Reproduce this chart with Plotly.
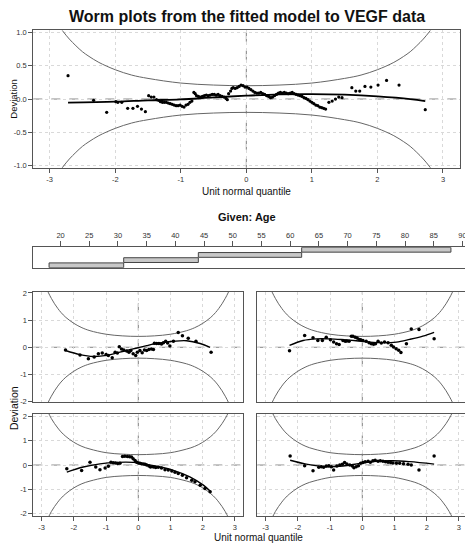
import plotly.graph_objects as go

W, H = 473, 550
OFF = 8  # the page body adds an 8 px margin, so the figure is drawn 8 px smaller
FW, FH = W - OFF, H - OFF

# ---- overall worm plot (all ages) ----
all_z = [-2.72, -2.33, -2.13, -1.99, -1.96, -1.90, -1.81, -1.73, -1.66, -1.60, -1.54,
         -1.49, -1.45, -1.41, -1.37, -1.34, -1.31, -1.28, -1.25, -1.22, -1.19, -1.16,
         -1.13, -1.10, -1.07, -1.04, -1.01, -0.98, -0.95, -0.92, -0.89, -0.86, -0.83,
         -0.80, -0.78, -0.76, -0.73, -0.70, -0.67, -0.64, -0.61, -0.58, -0.55, -0.52,
         -0.49, -0.46, -0.43, -0.40, -0.37, -0.34, -0.31, -0.29,
         -0.27, -0.24, -0.22, -0.20, -0.17, -0.14, -0.11, -0.08, -0.05, -0.02, 0.01,
         0.04, 0.07, 0.10, 0.13, 0.16, 0.19, 0.22, 0.25, 0.28, 0.31, 0.34, 0.37, 0.40,
         0.43, 0.46, 0.49, 0.52, 0.55, 0.58, 0.61, 0.64, 0.67, 0.70, 0.73, 0.76, 0.79,
         0.82, 0.85, 0.88, 0.91, 0.94, 0.97, 1.00, 1.03, 1.06, 1.09, 1.12, 1.15, 1.18,
         1.21, 1.26, 1.31, 1.36, 1.41, 1.46,
         1.61, 1.67, 1.73, 1.81, 1.90, 2.01, 2.14, 2.33, 2.73]
all_dev = [0.35, -0.02, -0.20, -0.04, -0.05, -0.05, -0.14, -0.14, -0.11, -0.15, -0.19,
           0.05, 0.03, 0.03, -0.01, -0.02, -0.04, -0.05, -0.05, -0.05, -0.06, -0.07,
           -0.08, -0.09, -0.10, -0.10, -0.09, -0.11, -0.12, -0.09, -0.08, -0.05, -0.03,
           0.10, 0.08, 0.05, 0.04, 0.03, 0.04, 0.05, 0.06, 0.05, 0.06, 0.07,
           0.07, 0.06, 0.07, 0.05, 0.04, 0.03, 0.01, -0.01,
           0.08, 0.12, 0.16, 0.17, 0.16, 0.17, 0.19, 0.21, 0.20, 0.18, 0.18,
           0.16, 0.14, 0.12, 0.10, 0.09, 0.09, 0.10, 0.08, 0.07, 0.05, 0.04, 0.02, 0.03,
           0.05, 0.07, 0.09, 0.10, 0.09, 0.10, 0.09, 0.08, 0.09, 0.10, 0.08, 0.07, 0.06,
           0.05, 0.04, 0.02, 0.01, -0.01, -0.03, -0.05, -0.07, -0.09, -0.10, -0.12, -0.13, -0.14,
           -0.15, -0.05, -0.03, 0.00, 0.03, 0.02,
           0.17, 0.12, 0.12, 0.19, 0.18, 0.21, 0.28, 0.21, -0.16]
all_fit_z = [-2.72, -2.0, -1.5, -1.0, -0.5, 0.0, 0.5, 1.0, 1.5, 2.0, 2.5, 2.73]
all_fit = [-0.055, -0.04, -0.02, -0.005, 0.025, 0.05, 0.07, 0.075, 0.065, 0.04, 0.0, -0.03]

# confidence band half-widths, positive quantile side
band_z = [0, 0.5, 1.0, 1.5, 1.75, 2.0, 2.25, 2.4, 2.5, 2.6, 2.7, 2.8, 2.9]
band_all = [0.20, 0.21, 0.24, 0.31, 0.36, 0.44, 0.55, 0.64, 0.71, 0.80, 0.90, 1.02, 1.16]
band_row1 = [0.40, 0.42, 0.48, 0.61, 0.72, 0.88, 1.10, 1.28, 1.43, 1.60, 1.80, 2.03, 2.31]
band_row2 = [0.43, 0.45, 0.51, 0.66, 0.77, 0.94, 1.18, 1.37, 1.53, 1.71, 1.92, 2.18, 2.47]

# ---- age intervals ----
age_start = [18, 31, 44, 62]
age_end = [31, 44, 62, 88]
age_level = [1, 2, 3, 4]
age_ticks = [20, 25, 30, 35, 40, 45, 50, 55, 60, 65, 70, 75, 80, 85, 90]

# ---- panel: age 18-31 (bottom left) ----
bl_z = [-2.22, -1.76, -1.50, -1.32, -1.19, -1.03, -0.93, -0.85, -0.78, -0.71, -0.64,
        -0.57, -0.49, -0.42, -0.34, -0.27, -0.21, -0.16, -0.10, -0.05, 0.0, 0.05, 0.10,
        0.16, 0.21, 0.26, 0.33, 0.38, 0.47, 0.54, 0.62, 0.72, 0.83, 0.93, 1.04, 1.14,
        1.24, 1.37, 1.50, 1.66, 1.76, 1.92, 2.07, 2.23]
bl_dev = [-0.15, -0.22, 0.12, -0.08, -0.19, -0.12, -0.05, 0.12, 0.10, 0.08, 0.06,
          0.07, 0.35, 0.36, 0.35, 0.34, 0.33, 0.26, 0.19, 0.12, 0.09, 0.07, 0.05,
          0.04, 0.03, 0.0, -0.04, -0.08, -0.08, -0.10, -0.09, -0.12, -0.19, -0.20, -0.25, -0.30,
          -0.35, -0.42, -0.52, -0.63, -0.69, -0.83, -0.97, -1.10]
bl_fit_z = [-2.22, -1.71, -1.19, -0.67, -0.16, 0.16, 0.57, 1.09, 1.60, 2.02, 2.25]
bl_fit = [-0.29, -0.08, 0.05, 0.11, 0.11, 0.05, -0.05, -0.22, -0.49, -0.83, -1.10]

# ---- panel: age 31-44 (bottom right) ----
br_z = [-2.24, -1.79, -1.53, -1.35, -1.27, -1.20, -1.12, -1.04, -0.96, -0.89, -0.79,
        -0.70, -0.62, -0.55, -0.48, -0.39, -0.31, -0.26, -0.19, -0.12, -0.05, 0.02,
        0.09, 0.18, 0.25, 0.33, 0.40, 0.49, 0.56, 0.64, 0.72, 0.80, 0.88, 0.95, 1.06,
        1.16, 1.28, 1.42, 1.52, 1.76, 2.23]
br_dev = [0.37, -0.03, -0.23, -0.09, -0.07, -0.09, -0.04, -0.03, -0.07, -0.20, -0.04,
          0.0, 0.03, 0.11, 0.04, 0.0, -0.04, -0.11, -0.07, -0.03, 0.07, 0.11,
          0.14, 0.16, 0.12, 0.18, 0.20, 0.16, 0.18, 0.16, 0.14, 0.12, 0.11, 0.09, 0.07,
          0.07, 0.05, 0.03, 0.0, -0.20, 0.37]
br_fit_z = [-2.24, -1.74, -1.12, -0.60, -0.08, 0.43, 0.95, 1.47, 2.23]
br_fit = [0.20, 0.04, -0.07, -0.04, 0.07, 0.16, 0.18, 0.14, 0.04]

# ---- panel: age 44-62 (top left) ----
tl_z = [-2.26, -1.81, -1.55, -1.37, -1.24, -1.12, -1.00, -0.93, -0.81, -0.72, -0.65,
        -0.59, -0.52, -0.45, -0.36, -0.29, -0.23, -0.16, -0.08, -0.03, 0.05, 0.12,
        0.19, 0.26, 0.33, 0.41, 0.47, 0.50, 0.57, 0.64, 0.72, 0.78, 0.85, 0.91, 0.98,
        1.09, 1.24, 1.37, 1.55, 1.79, 2.26]
tl_dev = [-0.10, -0.28, -0.42, -0.36, -0.24, -0.21, -0.27, -0.30, -0.39, -0.18, -0.21,
          0.02, -0.06, -0.10, -0.14, -0.18, -0.12, -0.24, -0.30, -0.18, -0.12, -0.20,
          -0.10, -0.12, -0.08, -0.06, -0.08, 0.15, 0.14, 0.14, 0.12, 0.17, 0.22, 0.16, 0.05,
          0.22, 0.54, 0.42, 0.33, 0.22, -0.18]
tl_fit_z = [-2.26, -1.81, -1.40, -0.98, -0.57, -0.16, 0.26, 0.67, 1.09, 1.50, 1.92, 2.23]
tl_fit = [-0.12, -0.27, -0.34, -0.30, -0.18, -0.06, 0.06, 0.16, 0.22, 0.24, 0.14, 0.0]

# ---- panel: age 62-88 (top right) ----
tr_z = [-2.26, -1.79, -1.53, -1.38, -1.24, -1.12, -0.99, -0.89, -0.80, -0.72, -0.60,
        -0.53, -0.48, -0.41, -0.34, -0.29, -0.22, -0.16, -0.10, -0.05, 0.02, 0.12,
        0.21, 0.28, 0.35, 0.41, 0.49, 0.59, 0.69, 0.80, 0.90, 0.97, 1.05, 1.13, 1.20,
        1.37, 1.52, 1.76, 2.23]
tr_dev = [-0.13, 0.43, 0.35, 0.25, 0.25, 0.37, 0.28, 0.19, 0.13, 0.10, 0.25,
          0.22, 0.23, 0.22, 0.41, 0.41, 0.37, 0.34, 0.29, 0.28, 0.25, 0.22,
          0.17, 0.13, 0.11, 0.13, 0.22, 0.16, 0.19, 0.17, 0.07, 0.01, -0.05, -0.11, -0.19,
          0.13, 0.67, 0.65, 0.31]
tr_fit_z = [-2.26, -1.84, -1.43, -1.01, -0.60, -0.19, 0.23, 0.64, 1.06, 1.47, 1.88, 2.23]
tr_fit = [0.07, 0.25, 0.31, 0.31, 0.28, 0.24, 0.19, 0.17, 0.19, 0.29, 0.41, 0.55]

FONT = "Liberation Sans, Arial, sans-serif"
LINE = "#555555"
GRID = "#d9d9d9"


def px_x(a, b):
    return [(a - OFF) / FW, (b - OFF) / FW]


def px_y(top, bottom):
    return [1 - (bottom - OFF) / FH, 1 - (top - OFF) / FH]


fig = go.Figure()


def add_panel(n, z, dev, fit_z, fit, band, dot=3.5, lw=1.4):
    sfx = "" if n == 1 else str(n)
    xa, ya = "x" + sfx, "y" + sfx
    full_z = [-v for v in band_z[::-1]] + band_z[1:]
    full_b = band[::-1] + band[1:]
    fig.add_trace(go.Scatter(x=full_z, y=full_b, mode="lines", xaxis=xa, yaxis=ya,
                             line=dict(color="#666666", width=1, shape="spline"),
                             hoverinfo="skip"))
    fig.add_trace(go.Scatter(x=full_z, y=[-v for v in full_b], mode="lines", xaxis=xa, yaxis=ya,
                             line=dict(color="#666666", width=1, shape="spline"),
                             hoverinfo="skip"))
    fig.add_trace(go.Scatter(x=fit_z, y=fit, mode="lines", xaxis=xa, yaxis=ya,
                             line=dict(color="black", width=lw, shape="spline")))
    fig.add_trace(go.Scatter(x=z, y=dev, mode="markers", xaxis=xa, yaxis=ya,
                             marker=dict(color="black", size=dot)))
    for sh in [dict(x0=0, x1=1, xref=xa + " domain", y0=0, y1=0, yref=ya),
               dict(x0=0, x1=0, xref=xa, y0=0, y1=1, yref=ya + " domain")]:
        fig.add_shape(type="line", line=dict(color="#808080", width=1, dash="dash"),
                      layer="below", **sh)


add_panel(1, all_z, all_dev, all_fit_z, all_fit, band_all, dot=3.2, lw=1.8)
add_panel(3, tl_z, tl_dev, tl_fit_z, tl_fit, band_row1)
add_panel(4, tr_z, tr_dev, tr_fit_z, tr_fit, band_row1)
add_panel(5, bl_z, bl_dev, bl_fit_z, bl_fit, band_row2)
add_panel(6, br_z, br_dev, br_fit_z, br_fit, band_row2)

# given: age intervals
fig.add_trace(go.Bar(y=age_level, x=[e - s for s, e in zip(age_start, age_end)], base=age_start,
                     orientation="h", width=0.92, xaxis="x2", yaxis="y2",
                     marker=dict(color="#c8c8c8", line=dict(color="#444444", width=1))))

tickfont = dict(family=FONT, size=7.5, color="#333333")
zticks = [-3, -2, -1, 0, 1, 2, 3]
zlabels = [str(v) for v in zticks]


def xax(dom, anchor, labels=True, rng=(-3.26, 3.26)):
    return dict(domain=dom, anchor=anchor, range=list(rng), tickvals=zticks, ticktext=zlabels,
                showticklabels=labels, ticks="outside" if labels else "", ticklen=4,
                tickcolor=LINE, showline=True, mirror=True, linecolor=LINE, linewidth=1,
                showgrid=True, gridcolor=GRID, griddash="dot", zeroline=False, tickfont=tickfont)


def yax(dom, anchor, rng, vals, text, labels=True):
    return dict(domain=dom, anchor=anchor, range=list(rng), tickvals=vals, ticktext=text,
                showticklabels=labels, ticks="outside" if labels else "", ticklen=4,
                tickcolor=LINE, showline=True, mirror=True, linecolor=LINE, linewidth=1,
                showgrid=True, gridcolor=GRID, griddash="dot", zeroline=False, tickfont=tickfont)


top_vals = [-1.0, -0.5, 0.0, 0.5, 1.0]
top_text = ["-1.0", "-0.5", "0.0", "0.5", "1.0"]
sub_vals = [-2, -1, 0, 1, 2]
sub_text = ["-2", "-1", "0", "1", "2"]

colL = px_x(33.3, 243.3)
colR = px_x(257.3, 467.3)
row1 = px_y(292.3, 404.3)
row2 = px_y(415.7, 520)

fig.update_layout(
    width=FW, height=FH, margin=dict(l=0, r=0, t=0, b=0),
    paper_bgcolor="white", plot_bgcolor="white", showlegend=False,
    font=dict(family=FONT, color="#222222"),
    xaxis=xax(px_x(33.3, 460), "y", rng=(-3.25, 3.26)),
    yaxis=yax(px_y(26.7, 166), "x", (-1.03, 1.03), top_vals, top_text),
    xaxis2=dict(domain=px_x(33, 467), anchor="y2", range=[15.2, 90.8], side="top",
                tickvals=age_ticks, ticks="outside", ticklen=5, tickcolor=LINE,
                showline=True, mirror=True, linecolor=LINE, linewidth=1,
                showgrid=False, zeroline=False, tickfont=tickfont),
    yaxis2=dict(domain=px_y(246.7, 267.7), anchor="x2", range=[0.5, 4.5],
                showticklabels=False, ticks="", showline=True, mirror=True,
                linecolor=LINE, linewidth=1, showgrid=False, zeroline=False),
    xaxis3=xax(colL, "y3", labels=False),
    yaxis3=yax(row1, "x3", (-2.03, 2.03), sub_vals, sub_text),
    xaxis4=xax(colR, "y4", labels=False),
    yaxis4=yax(row1, "x4", (-2.03, 2.03), sub_vals, sub_text, labels=False),
    xaxis5=xax(colL, "y5"),
    yaxis5=yax(row2, "x5", (-2.12, 2.12), sub_vals, sub_text),
    xaxis6=xax(colR, "y6"),
    yaxis6=yax(row2, "x6", (-2.12, 2.12), sub_vals, sub_text, labels=False),
)


def label(text, x, y, size, angle=0):
    fig.add_annotation(text=text, x=(x - OFF) / FW, y=1 - (y - OFF) / FH,
                       xref="paper", yref="paper",
                       showarrow=False, textangle=angle, xanchor="center", yanchor="middle",
                       font=dict(family=FONT, size=size, color="#111111"))


label("<b>Worm plots from the fitted model to VEGF data</b>", 246.5, 12.5, 16)
label("Deviation", 14, 96, 9.5, -90)
label("Unit normal quantile", 246, 190.5, 10)
label("<b>Given: Age</b>", 247.5, 216.5, 11)
label("Deviation", 14, 410, 10.5, -90)
label("Unit normal quantile", 258.7, 541.5, 10)

fig.write_html("out.html")
